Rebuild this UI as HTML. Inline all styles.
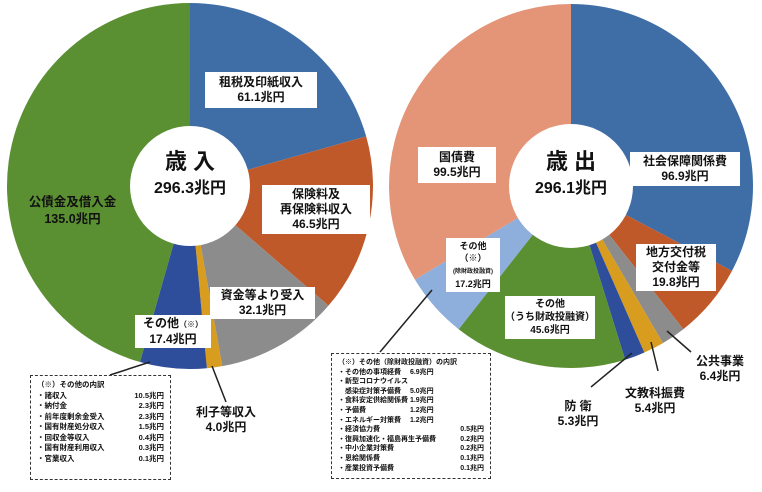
<!DOCTYPE html>
<html><head><meta charset="utf-8"><style>
body{margin:0;background:#fff;width:762px;height:492px;overflow:hidden;position:relative;font-family:"Liberation Sans","Noto Sans CJK JP",sans-serif;font-weight:bold;color:#111}
.b{position:absolute;background:#fff;text-align:center;font-size:12px;line-height:15px;}
.t{position:absolute;text-align:center;font-size:12px;line-height:15px;}
.d{position:absolute;border:1.5px dashed #333;background:#fff;font-size:7.5px;line-height:10.5px;padding:4px 6px;box-sizing:border-box}
.r{display:flex;justify-content:space-between}
</style></head><body>
<svg id="s" width="762" height="492" style="position:absolute;left:0;top:0"></svg>
<div class="b" style="left:205px;top:72px;width:112px;padding:3px 0">租税及印紙収入<br>61.1兆円</div>
<div class="b" style="left:262px;top:185px;width:108px;padding:2px 0">保険料及<br>再保険料収入<br>46.5兆円</div>
<div class="b" style="left:210px;top:287px;width:105px;padding:1px 0">資金等より受入<br>32.1兆円</div>
<div class="b" style="left:135px;top:315px;width:76px;padding:1px 0">その他<span style="font-size:8px">（※）</span><br>17.4兆円</div>
<div class="t" style="left:15px;top:194px;width:115px;font-size:12.5px;line-height:17px">公債金及借入金<br>135.0兆円</div>
<div class="t" style="left:190px;top:405px;width:72px">利子等収入<br>4.0兆円</div>
<div class="t" style="left:140px;top:150px;width:100px;font-size:22px;line-height:24px">歳 入<br><span style="font-size:16px">296.3兆円</span></div>
<div class="t" style="left:520px;top:150px;width:102px;font-size:22px;line-height:24px">歳 出<br><span style="font-size:16px">296.1兆円</span></div>
<div class="b" style="left:418px;top:147px;width:78px;padding:3px 0">国債費<br>99.5兆円</div>
<div class="b" style="left:630px;top:152px;width:110px;padding:2px 0">社会保障関係費<br>96.9兆円</div>
<div class="b" style="left:636px;top:244px;width:80px;padding:1px 0">地方交付税<br>交付金等<br>19.8兆円</div>
<div class="b" style="left:505px;top:296px;width:90px;font-size:10px;line-height:13px;padding:2px 0;white-space:nowrap">その他<br>（うち財政投融資）<br>45.6兆円</div>
<div class="b" style="left:446px;top:238px;width:54px;font-size:9px;line-height:12px;padding:2px 0">その他<br>（※）<br><span style="font-size:6px">(除財政投融資)</span><br>17.2兆円</div>
<div class="t" style="left:690px;top:354px;width:60px">公共事業<br>6.4兆円</div>
<div class="t" style="left:618px;top:386px;width:74px">文教科振費<br>5.4兆円</div>
<div class="t" style="left:553px;top:399px;width:50px">防 衛<br>5.3兆円</div>
<div class="d" style="left:30px;top:375px;width:141px;height:105px">
<div>（※）その他の内訳</div>
<div class="r"><span>・諸収入</span><span>10.5兆円</span></div>
<div class="r"><span>・納付金</span><span>2.3兆円</span></div>
<div class="r"><span>・前年度剰余金受入</span><span>2.3兆円</span></div>
<div class="r"><span>・国有財産処分収入</span><span>1.5兆円</span></div>
<div class="r"><span>・回収金等収入</span><span>0.4兆円</span></div>
<div class="r"><span>・国有財産利用収入</span><span>0.3兆円</span></div>
<div class="r"><span>・官業収入</span><span>0.1兆円</span></div>
</div>
<div class="d" style="left:331px;top:353px;width:160px;height:126px;font-size:7px;line-height:9.6px">
<div>（※）その他（除財政投融資）の内訳</div>
<div>・その他の事項経費　 6.9兆円</div>
<div>・新型コロナウイルス</div>
<div>　感染症対策予備費　 5.0兆円</div>
<div>・食料安定供給関係費 1.9兆円</div>
<div>・予備費　　　　　　 1.2兆円</div>
<div>・エネルギー対策費　 1.2兆円</div>
<div class="r"><span>・経済協力費</span><span>0.5兆円</span></div>
<div class="r"><span>・復興加速化・福島再生予備費</span><span>0.2兆円</span></div>
<div class="r"><span>・中小企業対策費</span><span>0.2兆円</span></div>
<div class="r"><span>・恩給関係費</span><span>0.1兆円</span></div>
<div class="r"><span>・産業投資予備費</span><span>0.1兆円</span></div>
</div>
<script>
var s=document.getElementById('s'),h='';
function pie(cx,cy,r,ir,data){var tot=0;data.forEach(d=>tot+=d[0]);var a=-Math.PI/2;
data.forEach(d=>{var b=a+d[0]/tot*2*Math.PI;var x1=cx+r*Math.cos(a),y1=cy+r*Math.sin(a),x2=cx+r*Math.cos(b),y2=cy+r*Math.sin(b);
h+='<path d="M'+cx+' '+cy+'L'+x1+' '+y1+'A'+r+' '+r+' 0 '+((b-a)>Math.PI?1:0)+' 1 '+x2+' '+y2+'Z" fill="'+d[1]+'"/>';a=b;});
h+='<circle cx="'+cx+'" cy="'+cy+'" r="'+ir+'" fill="#fff"/>';}
pie(190,186,183,60,[[61.1,'#3f6ea7'],[46.5,'#c0592a'],[32.1,'#8c8c8c'],[4.0,'#d89c1e'],[17.4,'#2e4d9a'],[135.0,'#5a8f32']]);
pie(571,186,182,62,[[96.9,'#3f6ea7'],[19.8,'#c0592a'],[6.4,'#8c8c8c'],[5.4,'#d89c1e'],[5.3,'#2e4d9a'],[45.6,'#5a8f32'],[17.2,'#8eaedb'],[99.5,'#e49477']]);
h+='<g stroke="#222" stroke-width="1.5"><line x1="212" y1="366" x2="226" y2="402"/><line x1="150" y1="362" x2="110" y2="375"/><line x1="432" y1="290" x2="380" y2="352"/>'+
'<line x1="667" y1="331" x2="691" y2="352"/><line x1="651" y1="342" x2="658" y2="371"/><line x1="632" y1="353" x2="591" y2="387"/></g>';
s.innerHTML=h;
</script>
</body></html>
